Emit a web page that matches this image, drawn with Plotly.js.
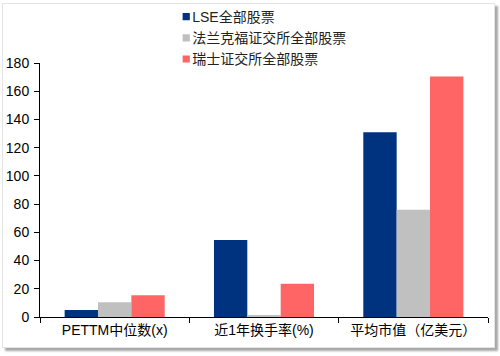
<!DOCTYPE html>
<html>
<head>
<meta charset="utf-8">
<script src="https://cdn.plot.ly/plotly-3.0.1.min.js"></script>
<style>
html,body{margin:0;padding:0;background:#fff;}
#wrap{position:relative;width:500px;height:356px;}
#frame{position:absolute;left:2px;top:3px;width:491px;height:343px;border:1px solid #e4e4e4;box-shadow:3px 3px 2px #a8a8a8;background:#fff;}
#chart{position:absolute;left:0;top:0;width:500px;height:356px;}
</style>
</head>
<body>
<div id="wrap"><div id="frame"></div><div id="chart"></div></div>
<script>
const categories = ['PETTM中位数(x)', '近1年换手率(%)', '平均市值（亿美元）'];
const seriesNames = ['LSE全部股票', '法兰克福证交所全部股票', '瑞士证交所全部股票'];
const lseValues = [5, 54.5, 131];
const frankfurtValues = [10.5, 1.5, 76];
const swissValues = [15.5, 23.5, 170.5];
const yTicks = [0, 20, 40, 60, 80, 100, 120, 140, 160, 180];
const colors = ['#00337F', '#C0C0C0', '#FF6565'];

const allValues = [lseValues, frankfurtValues, swissValues];
const traces = allValues.map((vals, i) => ({
  type: 'bar',
  name: seriesNames[i],
  x: categories,
  y: vals,
  marker: {color: colors[i], line: {width: 0}},
  legendgroup: 'g' + i
}));

const fam = 'Liberation Sans, Arial, "Noto Sans CJK SC", sans-serif';
const font = {family: fam, size: 13, color: '#000'};
const layout = {
  width: 500, height: 356,
  margin: {l: 40, r: 12, t: 63, b: 39, autoexpand: false},
  paper_bgcolor: 'rgba(0,0,0,0)',
  plot_bgcolor: 'rgba(0,0,0,0)',
  font: font,
  barmode: 'group',
  bargap: 0.33,
  bargroupgap: 0,
  showlegend: true,
  legend: {
    x: 0.2505, y: 1.244, xanchor: 'left', yanchor: 'top',
    bgcolor: 'rgba(0,0,0,0)',
    font: {family: fam, size: 14, color: '#222'},
    traceorder: 'normal',
    tracegroupgap: 3,
    itemwidth: 30
  },
  xaxis: {
    type: 'category',
    showline: true, linecolor: '#000', linewidth: 1,
    ticks: 'outside', ticklen: 5, tickcolor: '#000',
    tickson: 'boundaries',
    showgrid: false, zeroline: false,
    tickfont: {family: fam, size: 14, color: '#000'}
  },
  yaxis: {
    range: [0, 180],
    tickvals: yTicks,
    ticktext: yTicks.map(String),
    showline: true, linecolor: '#000', linewidth: 1,
    ticks: 'outside', ticklen: 5, tickcolor: '#000',
    showgrid: false, zeroline: false,
    tickfont: {family: fam, size: 14, color: '#000'},
    ticklabelstandoff: 2
  }
};
Plotly.newPlot('chart', traces, layout, {displayModeBar: false, staticPlot: true}).then(gd => {
  gd.querySelectorAll('.legendpoints path').forEach(p => {
    p.setAttribute('transform', 'translate(34,0) scale(0.6)');
  });
});
</script>
</body>
</html>
